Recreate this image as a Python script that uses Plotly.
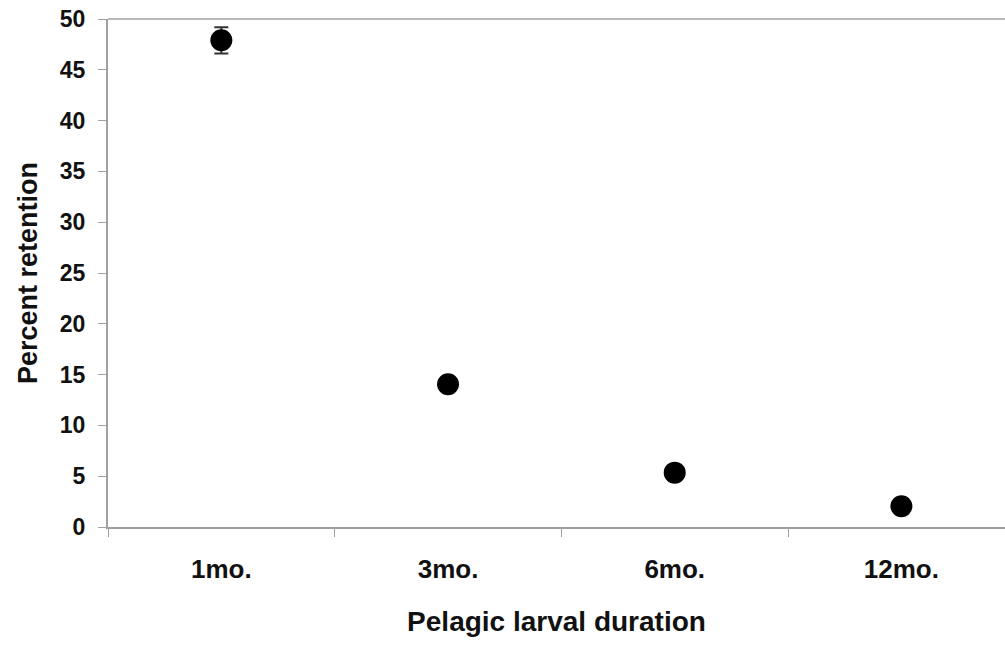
import plotly.graph_objects as go

categories = ["1mo.", "3mo.", "6mo.", "12mo."]
retention = [47.9, 14.05, 5.35, 2.05]
errors = [1.3, 0.0, 0.0, 0.0]
y_ticks = [0, 5, 10, 15, 20, 25, 30, 35, 40, 45, 50]

fig = go.Figure()
fig.add_trace(go.Scatter(
    x=categories, y=retention, mode="markers",
    marker=dict(color="black", size=22),
    error_y=dict(type="data", array=errors, visible=True, color="#333333", thickness=2, width=7),
    showlegend=False,
))

font_family = "Liberation Sans, Arial, sans-serif"
fig.update_layout(
    width=1005, height=646,
    margin=dict(l=108, r=0, t=19, b=119),
    paper_bgcolor="white", plot_bgcolor="white",
    font=dict(family=font_family, color="#111111"),
)
# top frame line of the plot area
fig.add_shape(type="line", xref="paper", yref="paper", x0=0, x1=1, y0=1, y1=1,
              line=dict(color="#b8b8b8", width=2))
fig.update_xaxes(
    type="category", range=[-0.5, 3.457],
    showline=True, linecolor="#a0a0a0", linewidth=2,
    showgrid=False, ticks="outside", tickson="boundaries", ticklen=8, tickcolor="#a0a0a0",
    tickfont=dict(size=26, family=font_family, weight="bold"),
    ticklabelstandoff=18,
    title=dict(text="<b>Pelagic larval duration</b>", font=dict(size=28), standoff=28),
)
fig.update_yaxes(
    range=[0, 50], tickvals=y_ticks,
    showline=True, linecolor="#a0a0a0", linewidth=2,
    showgrid=False, zeroline=False, ticks="outside", ticklen=8, tickcolor="#a0a0a0",
    tickfont=dict(size=23, family=font_family, weight="bold"),
    ticklabelstandoff=8,
    title=dict(text="<b>Percent retention</b>", font=dict(size=27), standoff=14),
)

fig.write_html("out.html", config={"displayModeBar": False},
               post_script="document.body.style.margin='0';")
